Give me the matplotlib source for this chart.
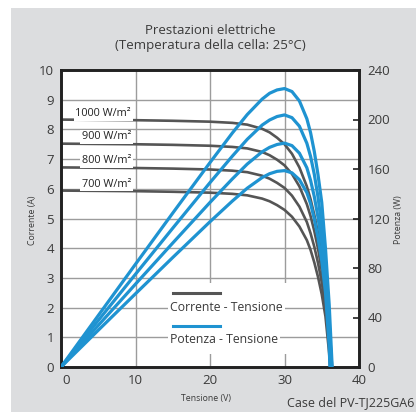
import matplotlib
matplotlib.use('Agg')
import matplotlib.pyplot as plt
from matplotlib.patches import Rectangle
import matplotlib.transforms as mtransforms

plt.rcParams['font.family'] = ['Open Sans', 'DejaVu Sans']

# voltage samples (V) for each irradiance curve
volts_1000 = [0, 5, 10, 15, 20, 23, 25, 27, 28, 29, 30, 31, 32, 33, 33.5, 34, 34.5, 35, 35.5, 36, 36.4]
volts_900 = [0, 5, 10, 15, 20, 23, 25, 27, 28, 29, 30, 31, 32, 33, 33.5, 34, 34.5, 35, 35.5, 36, 36.3]
volts_800 = [0, 5, 10, 15, 20, 23, 25, 27, 28, 29, 30, 31, 32, 33, 33.5, 34, 34.5, 35, 35.5, 36, 36.2]
volts_700 = [0, 5, 10, 15, 20, 23, 25, 27, 28, 29, 30, 31, 32, 33, 33.5, 34, 34.5, 35, 35.5, 36, 36.1]

# current (A)
amps_1000 = [8.33, 8.32, 8.31, 8.29, 8.26, 8.22, 8.16, 8.02, 7.90, 7.72, 7.50, 7.18, 6.72, 6.08, 5.65, 5.12, 4.50, 3.80, 2.70, 1.40, 0]
amps_900 = [7.52, 7.51, 7.50, 7.48, 7.45, 7.41, 7.36, 7.24, 7.13, 6.98, 6.79, 6.50, 6.08, 5.48, 5.08, 4.58, 3.98, 3.25, 2.35, 1.05, 0]
amps_800 = [6.72, 6.71, 6.70, 6.68, 6.65, 6.61, 6.56, 6.44, 6.34, 6.20, 6.03, 5.77, 5.40, 4.88, 4.50, 4.05, 3.50, 2.85, 2.00, 0.80, 0]
amps_700 = [5.94, 5.93, 5.92, 5.90, 5.87, 5.83, 5.78, 5.67, 5.58, 5.45, 5.29, 5.06, 4.73, 4.27, 3.94, 3.52, 3.03, 2.45, 1.70, 0.45, 0]

# power (W)
watts_1000 = [0, 41.6, 83.1, 124.4, 165.2, 189.1, 204.0, 216.5, 221.2, 223.9, 225.0, 222.6, 215.0, 200.6, 189.3, 174.1, 155.3, 133.0, 95.9, 50.4, 0]
watts_900 = [0, 37.6, 75.0, 112.2, 149.0, 170.4, 184.0, 195.5, 199.6, 202.4, 203.7, 201.5, 194.6, 180.8, 170.2, 155.7, 137.3, 113.8, 83.4, 37.8, 0]
watts_800 = [0, 33.6, 67.0, 100.2, 133.0, 152.0, 164.0, 173.9, 177.5, 179.8, 180.9, 178.9, 172.8, 161.0, 150.8, 137.7, 120.8, 99.8, 71.0, 28.8, 0]
watts_700 = [0, 29.7, 59.2, 88.5, 117.4, 134.1, 144.5, 153.1, 156.2, 158.1, 158.7, 156.9, 151.4, 140.9, 132.0, 119.7, 104.5, 85.8, 60.4, 16.2, 0]

irr_labels = ['1000 W/m²', '900 W/m²', '800 W/m²', '700 W/m²']
label_y = [8.52, 7.75, 6.95, 6.16]

curves = [(volts_1000, amps_1000, watts_1000),
          (volts_900, amps_900, watts_900),
          (volts_800, amps_800, watts_800),
          (volts_700, amps_700, watts_700)]

grey_line = '#555555'
blue_line = '#1f93d1'
grid_col = '#9c9c9c'
txt = '#3a3a3a'

fig = plt.figure(figsize=(4.16, 4.12), dpi=100)
fig.patch.set_facecolor('white')
bg = Rectangle((11 / 416, 0), 1 - 11 / 416, 1 - 8 / 412, transform=fig.transFigure,
               facecolor='#dcdddf', edgecolor='none', zorder=-10)
fig.add_artist(bg)

ax = fig.add_axes([61 / 416, 1 - 367 / 412, 298 / 416, 297 / 412])
ax.set_facecolor('white')
ax.set_xlim(0, 40)
ax.set_ylim(0, 10)

for xv in [10, 20, 30]:
    ax.axvline(xv, color=grid_col, lw=1.0, zorder=0.5)
# white box behind the legend hides the vertical grid
ax.add_patch(Rectangle((0.335, 0.044), 0.467, 0.239, transform=ax.transAxes,
                       facecolor='white', edgecolor='none', zorder=0.8))
for yv in range(1, 10):
    ax.axhline(yv, color=grid_col, lw=1.0, zorder=1)

for v, i, p in curves:
    ax.plot(v, i, color=grey_line, lw=1.9, zorder=2, solid_capstyle='butt')

for lab, yy in zip(irr_labels, label_y):
    ax.text(9.4, yy, lab, ha='right', va='center', fontsize=7.8, color='#222222',
            zorder=3, bbox=dict(facecolor='white', edgecolor='none', pad=1.2))

# legend
ax.plot([0.376, 0.534], [0.249, 0.249], transform=ax.transAxes, color=grey_line, lw=2.2, zorder=4)
ax.text(0.366, 0.202, 'Corrente - Tensione', transform=ax.transAxes, ha='left', va='center',
        fontsize=8.8, color=txt, zorder=4, bbox=dict(facecolor='white', edgecolor='none', pad=1.5))
ax.plot([0.376, 0.534], [0.138, 0.138], transform=ax.transAxes, color=blue_line, lw=2.2, zorder=4)
ax.text(0.366, 0.091, 'Potenza - Tensione', transform=ax.transAxes, ha='left', va='center',
        fontsize=8.8, color=txt, zorder=4, bbox=dict(facecolor='white', edgecolor='none', pad=1.5))

ax.set_xticks([0, 10, 20, 30, 40])
ax.set_yticks(range(0, 11))
ax.tick_params(axis='both', length=0, labelsize=9.5, labelcolor=txt, pad=5)
shift = mtransforms.ScaledTranslation(5 / 100, 0, fig.dpi_scale_trans)
xlabels = ax.get_xticklabels()
xlabels[0].set_transform(xlabels[0].get_transform() + shift)

ax2 = ax.twinx()
ax2.set_ylim(0, 240)
ax2.set_yticks([0, 40, 80, 120, 160, 200, 240])
ax2.tick_params(axis='y', direction='in', length=4, width=1.2, color='#222222',
                labelsize=9.5, labelcolor=txt, pad=6)
for v, i, p in curves:
    ax2.plot(v, p, color=blue_line, lw=2.3, zorder=3)

for a in (ax, ax2):
    for s in a.spines.values():
        s.set_color('#222222')
        s.set_linewidth(1.9)

fig.text(210 / 416, 1 - 30 / 412, 'Prestazioni elettriche', ha='center', va='center',
         fontsize=9.5, color=txt)
fig.text(210 / 416, 1 - 46 / 412, '(Temperatura della cella: 25°C)', ha='center', va='center',
         fontsize=9.5, color=txt)
fig.text(33 / 416, 1 - 220 / 412, 'Corrente (A)', rotation=90, ha='center', va='center',
         fontsize=6.3, color=txt)
fig.text(399 / 416, 1 - 220 / 412, 'Potenza (W)', rotation=90, ha='center', va='center',
         fontsize=6.3, color=txt)
fig.text(206 / 416, 1 - 398 / 412, 'Tensione (V)', ha='center', va='center',
         fontsize=6.3, color=txt)
fig.text(414 / 416, 1 - 403 / 412, 'Case del PV-TJ225GA6', ha='right', va='center',
         fontsize=9, color=txt)

fig.savefig('out.png', dpi=100)
